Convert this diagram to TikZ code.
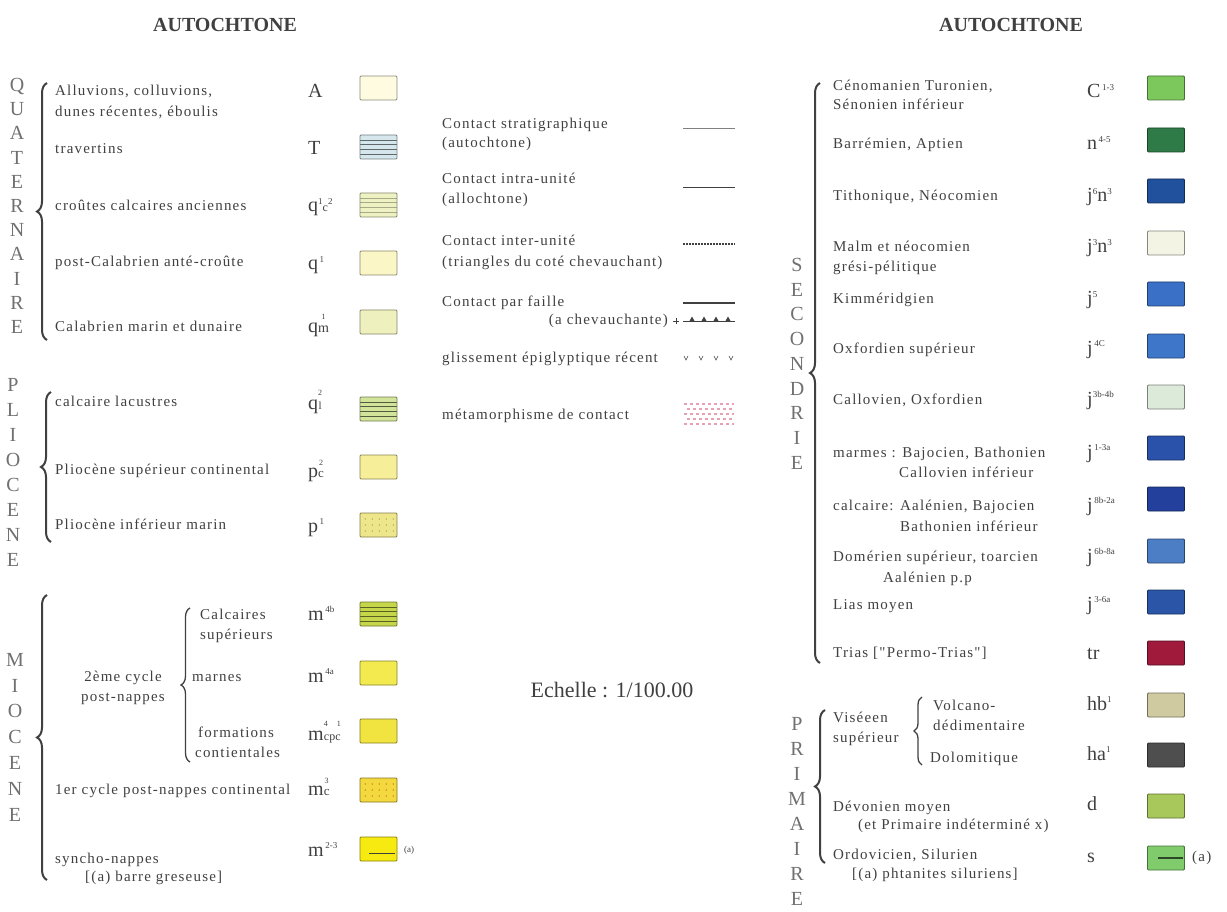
\documentclass[tikz,border=0pt]{standalone}
\usepackage{fontspec}
\setmainfont{Liberation Serif}
\newfontfamily\spaced[LetterSpace=8]{Liberation Serif}
\usepackage{xcolor}
\usepackage{tikz}
\usetikzlibrary{positioning}
\usetikzlibrary{calc,decorations.pathreplacing}

\definecolor{ink}{HTML}{404040}
\definecolor{vgray}{HTML}{707070}
\definecolor{cA}{HTML}{FFFBE0}
\definecolor{cT}{HTML}{D5E7EC}
\definecolor{cq12}{HTML}{EEF2C2}
\definecolor{cq1}{HTML}{FBF6C6}
\definecolor{cqm}{HTML}{EEF1BE}
\definecolor{cq2l}{HTML}{D2E39A}
\definecolor{cp2c}{HTML}{F6EE98}
\definecolor{cp1}{HTML}{EEE68A}
\definecolor{cm4b}{HTML}{C6D64A}
\definecolor{cm4a}{HTML}{F3EA50}
\definecolor{cmcpc}{HTML}{F2E440}
\definecolor{cm3c}{HTML}{F3D840}
\definecolor{cm23}{HTML}{F7EA10}
\definecolor{cC}{HTML}{7DC85C}
\definecolor{cn}{HTML}{2F7B48}
\definecolor{cjsn}{HTML}{21509C}
\definecolor{cjtn}{HTML}{F4F4E4}
\definecolor{cjf}{HTML}{3A70C6}
\definecolor{cjfc}{HTML}{3E76CA}
\definecolor{cjbb}{HTML}{DCEADA}
\definecolor{cjoa}{HTML}{2A52AA}
\definecolor{cjea}{HTML}{23419C}
\definecolor{cjsa}{HTML}{4C7EC6}
\definecolor{cjta}{HTML}{2B56A8}
\definecolor{ctr}{HTML}{A01A3C}
\definecolor{chb}{HTML}{D0CAA0}
\definecolor{cha}{HTML}{4E4E4E}
\definecolor{cd}{HTML}{A9C85C}
\definecolor{cs}{HTML}{80CC6C}
\definecolor{pinkmeta}{HTML}{E8A0B4}

\newcommand{\geosup}[1]{\raisebox{7.5pt}{\fontsize{9}{9}\selectfont #1}}
\newcommand{\geostk}[2]{\shortstack{\raisebox{2.5pt}{\fontsize{8}{8}\selectfont #1}\\#2}}

\begin{document}
\begin{tikzpicture}[x=1pt,y=-1pt,
  head/.style={inner sep=0pt, text=ink, font=\bfseries\fontsize{20}{24}\selectfont},
  vword/.style={anchor=north, align=center, inner sep=0pt, text=vgray, font=\fontsize{20}{#1}\selectfont},
  lbl/.style={anchor=base west, inner sep=0pt, text=ink, font=\spaced\fontsize{15}{18}\selectfont},
  sym/.style={anchor=base west, inner sep=0pt, text=ink, font=\fontsize{20}{22}\selectfont},
  swatch/.style={fill=#1, draw=#1!55!black, line width=0.8pt, rounded corners=1pt,
    minimum width=37pt, minimum height=24pt, inner sep=0pt},
  hlines/.style={path picture={
    \foreach \k in {0.2,0.4,0.6,0.8}
      \draw[#1, line width=0.5pt]
        ($(path picture bounding box.south west)!\k!(path picture bounding box.north west)$) --
        ($(path picture bounding box.south east)!\k!(path picture bounding box.north east)$);}},
  dots/.style={path picture={
    \foreach \i in {0.15,0.35,0.55,0.75,0.95}
      \foreach \j in {0.25,0.5,0.75}
        \fill[#1] ($(path picture bounding box.south west)!\j!(path picture bounding box.north west)
          + (\i*35pt,0)$) circle (0.7pt);}},
  bigbrace/.style={decorate, decoration={brace, amplitude=#1}, line width=2pt, ink},
  subbrace/.style={decorate, decoration={brace, amplitude=#1}, line width=1.3pt, ink}]

\useasboundingbox (0,0) rectangle (1227,912);

% headers
\node[head] (hleft) at (225,25) {AUTOCHTONE};
\node[head] (hright) at (1011,25) {AUTOCHTONE};

% left column : periods
\node[vword=24.2] (quat) at (17,78) {Q\\U\\A\\T\\E\\R\\N\\A\\I\\R\\E};
\node[vword=25] (plio) at (13,378) {P\\L\\I\\O\\C\\E\\N\\E};
\node[vword=25.8] (mio) at (15,653) {M\\I\\O\\C\\E\\N\\E};

\coordinate (quattop) at (47,83);
\coordinate (quatbot) at (47,340);
\coordinate (pliotop) at (51,392);
\coordinate (pliobot) at (51,542);
\coordinate (miotop) at (47,595);
\coordinate (miobot) at (47,880);
\coordinate (cyctop) at (190,608);
\coordinate (cycbot) at (190,762);
\draw[bigbrace=10pt] (quatbot) -- (quattop);
\draw[bigbrace=10pt] (pliobot) -- (pliotop);
\draw[bigbrace=10pt] (miobot) -- (miotop);
\draw[subbrace=9pt] (cycbot) -- (cyctop);

% left column : labels
\node[lbl] (alluv1) at (55,96) {Alluvions, colluvions,};
\node[lbl] (alluv2) at (55,117) {dunes récentes, éboulis};
\node[lbl] (trav) at (55,154) {travertins};
\node[lbl] (crout) at (55,211) {croûtes calcaires anciennes};
\node[lbl] (postcal) at (55,267) {post-Calabrien anté-croûte};
\node[lbl] (calab) at (55,331) {Calabrien marin et dunaire};
\node[lbl] (lacus) at (55,406) {calcaire lacustres};
\node[lbl] (pliosup) at (55,474) {Pliocène supérieur continental};
\node[lbl] (plioinf) at (55,529) {Pliocène inférieur marin};
\node[lbl, anchor=base] (cycle2a) at (123,681) {2ème cycle};
\node[lbl, anchor=base] (cycle2b) at (123,701) {post-nappes};
\node[lbl] (calc1) at (200,619) {Calcaires};
\node[lbl] (calc2) at (200,639) {supérieurs};
\node[lbl] (marn) at (192,681) {marnes};
\node[lbl] (form1) at (198,737) {formations};
\node[lbl] (form2) at (195,757) {contientales};
\node[lbl] (cycle1) at (55,794) {1er cycle post-nappes continental};
\node[lbl] (synch1) at (55,863) {syncho-nappes};
\node[lbl] (synch2) at (85,881) {[(a) barre greseuse]};

% left column : notations
\node[sym] (sA) at (308,98) {A};
\node[sym] (sT) at (308,155) {T};
\node[sym] (sq12) at (308,212) {q\geosup{1}{\fontsize{12}{12}\selectfont c}\geosup{2}};
\node[sym] (sq1) at (308,270) {q\geosup{\,1}};
\node[sym] (sqm) at (308,332) {q{\fontsize{14}{14}\selectfont\geostk{1}{m}}};
\node[sym] (sq2l) at (308,409) {q{\fontsize{11}{11}\selectfont\geostk{2}{l}}};
\node[sym] (sp2c) at (308,477) {p{\fontsize{13}{13}\selectfont\geostk{2}{c}}};
\node[sym] (sp1) at (308,532) {p\geosup{\,1}};
\node[sym] (sm4b) at (308,620) {m\geosup{\,4b}};
\node[sym] (sm4a) at (308,682) {m\geosup{\,4a}};
\node[sym] (smcpc) at (308,740) {m{\fontsize{12}{12}\selectfont\geostk{\raisebox{2pt}{4\hspace{9pt}1}}{cpc}}};
\node[sym] (sm3c) at (308,795) {m{\fontsize{13}{13}\selectfont\geostk{3}{c}}};
\node[sym] (sm23) at (308,856) {m\geosup{\,2-3}};

% left column : swatches
\node[swatch=cA] (bA) at (378.5,88) {};
\node[swatch=cT, hlines=cT!45!black] (bT) at (378.5,147) {};
\node[swatch=cq12, hlines=cq12!70!black] (bq12) at (378.5,205) {};
\node[swatch=cq1] (bq1) at (378.5,263) {};
\node[swatch=cqm] (bqm) at (378.5,322) {};
\node[swatch=cq2l, hlines=cq2l!40!black] (bq2l) at (378.5,409) {};
\node[swatch=cp2c] (bp2c) at (378.5,467) {};
\node[swatch=cp1, dots=cp1!60!black] (bp1) at (378.5,525) {};
\node[swatch=cm4b, hlines=cm4b!45!black] (bm4b) at (378.5,614) {};
\node[swatch=cm4a] (bm4a) at (378.5,673) {};
\node[swatch=cmcpc] (bmcpc) at (378.5,731) {};
\node[swatch=cm3c, dots=orange!70!black] (bm3c) at (378.5,790) {};
\node[swatch=cm23] (bm23) at (378.5,849) {};
\coordinate (barA) at (369,853);
\coordinate (barB) at (395,853);
\draw[ink, line width=0.8pt] (barA) -- (barB);
\node[anchor=west, inner sep=0pt, text=ink, font=\fontsize{9}{10}\selectfont] (aleft) at (404,850) {(a)};

% middle column : contacts
\node[lbl] (strat1) at (442,129) {Contact stratigraphique};
\node[lbl] (strat2) at (442,148) {(autochtone)};
\node[lbl] (intra1) at (442,184) {Contact intra-unité};
\node[lbl] (intra2) at (442,204) {(allochtone)};
\node[lbl] (inter1) at (442,246) {Contact inter-unité};
\node[lbl] (inter2) at (442,267) {(triangles du coté chevauchant)};
\node[lbl] (faille) at (442,306) {Contact par faille};
\node[lbl, anchor=base east] (chev) at (668,324) {(a chevauchante)};
\node[lbl] (gliss) at (442,362) {glissement épiglyptique récent};
\node[lbl] (meta) at (442,419) {métamorphisme de contact};

\coordinate (strats) at (683,128);
\coordinate (strate) at (735,128);
\coordinate (intras) at (683,187);
\coordinate (intrae) at (735,187);
\coordinate (inters) at (683,244);
\coordinate (intere) at (735,244);
\coordinate (failles) at (683,303);
\coordinate (faillee) at (735,303);
\coordinate (chevs) at (683,321);
\coordinate (cheve) at (735,321);
\draw[gray, line width=0.5pt] (strats) -- (strate);
\draw[ink, line width=0.9pt] (intras) -- (intrae);
\draw[ink, line width=1.3pt, dash pattern=on 2pt off 1pt] (inters) -- (intere);
\draw[ink, line width=1.6pt] (failles) -- (faillee);
\draw[ink, line width=1pt] (chevs) -- (cheve);
\foreach \x in {692,704,716,728}
  \fill[ink] (\x-2.5,321) -- (\x+2.5,321) -- (\x,316.5) -- cycle;
\draw[ink, line width=0.6pt] (673,321) -- (679,321) (676,318) -- (676,324);
\foreach \x in {686,701,716,731}
  \draw[ink, line width=0.6pt] (\x-2,356) -- (\x,360) -- (\x+2,356);
\foreach \r/\p in {404/0,409/3,414/0,419/3,424/0}
  \draw[pinkmeta, line width=1.2pt, dash pattern=on 3pt off 3pt, dash phase=\p pt] (684,\r) -- (734,\r);

\node[inner sep=0pt, text=ink, font=\fontsize{22}{26}\selectfont] (echelle) at (612,690) {Echelle : 1/100.00};

% right column : periods
\node[vword=24.75] (seco) at (797,258) {S\\E\\C\\O\\N\\D\\R\\I\\E};
\node[vword=25] (prim) at (797,717) {P\\R\\I\\M\\A\\I\\R\\E};

\coordinate (secotop) at (820,83);
\coordinate (secobot) at (820,663);
\coordinate (primtop) at (825,710);
\coordinate (primbot) at (825,863);
\coordinate (visetop) at (922,697);
\coordinate (visebot) at (922,765);
\draw[bigbrace=10pt] (secobot) -- (secotop);
\draw[bigbrace=10pt] (primbot) -- (primtop);
\draw[subbrace=8pt] (visebot) -- (visetop);

% right column : labels
\node[lbl] (ceno1) at (833,91) {Cénomanien Turonien,};
\node[lbl] (ceno2) at (833,110) {Sénonien inférieur};
\node[lbl] (barr) at (833,149) {Barrémien, Aptien};
\node[lbl] (tith) at (833,201) {Tithonique, Néocomien};
\node[lbl] (malm1) at (833,252) {Malm et néocomien};
\node[lbl] (malm2) at (833,272) {grési-pélitique};
\node[lbl] (kimm) at (833,304) {Kimméridgien};
\node[lbl] (oxsup) at (833,353) {Oxfordien supérieur};
\node[lbl] (callox) at (833,404) {Callovien, Oxfordien};
\node[lbl] (marm1) at (833,457) {marmes : Bajocien, Bathonien};
\node[lbl] (marm2) at (899,477) {Callovien inférieur};
\node[lbl] (calr1) at (833,510) {calcaire: Aalénien, Bajocien};
\node[lbl] (calr2) at (900,531) {Bathonien inférieur};
\node[lbl] (dome1) at (833,561) {Domérien supérieur, toarcien};
\node[lbl] (dome2) at (883,582) {Aalénien p.p};
\node[lbl] (lias) at (833,609) {Lias moyen};
\node[lbl] (trias) at (833,657) {Trias ["Permo-Trias"]};
\node[lbl] (vise1) at (833,722) {Viséeen};
\node[lbl] (vise2) at (833,742) {supérieur};
\node[lbl] (volc1) at (933,710) {Volcano-};
\node[lbl] (volc2) at (933,730) {dédimentaire};
\node[lbl] (dolo) at (930,762) {Dolomitique};
\node[lbl] (devo1) at (833,811) {Dévonien moyen};
\node[lbl] (devo2) at (858,829) {(et Primaire indéterminé x)};
\node[lbl] (ordo1) at (833,859) {Ordovicien, Silurien};
\node[lbl] (ordo2) at (852,878) {[(a) phtanites siluriens]};

% right column : notations
\node[sym] (sC) at (1087,98) {C\geosup{\,1-3}};
\node[sym] (sn) at (1087,150) {n\geosup{\,4-5}};
\node[sym] (sjsn) at (1087,202) {j\geosup{6}n\geosup{3}};
\node[sym] (sjtn) at (1087,253) {j\geosup{3}n\geosup{3}};
\node[sym] (sjf) at (1087,305) {j\geosup{5}};
\node[sym] (sjfc) at (1087,354) {j\geosup{\,4C}};
\node[sym] (sjbb) at (1087,405) {j\geosup{3b-4b}};
\node[sym] (sjoa) at (1087,458) {j\geosup{\,1-3a}};
\node[sym] (sjea) at (1087,511) {j\geosup{\,8b-2a}};
\node[sym] (sjsa) at (1087,562) {j\geosup{\,6b-8a}};
\node[sym] (sjta) at (1087,610) {j\geosup{\,3-6a}};
\node[sym] (str) at (1087,659) {tr};
\node[sym] (shb) at (1087,710) {hb\geosup{1}};
\node[sym] (sha) at (1087,760) {ha\geosup{1}};
\node[sym] (sd) at (1087,810) {d};
\node[sym] (ss) at (1087,862) {s};

% right column : swatches
\node[swatch=cC] (bC) at (1166,88) {};
\node[swatch=cn] (bn) at (1166,140) {};
\node[swatch=cjsn] (bjsn) at (1166,191) {};
\node[swatch=cjtn] (bjtn) at (1166,243) {};
\node[swatch=cjf] (bjf) at (1166,294) {};
\node[swatch=cjfc] (bjfc) at (1166,346) {};
\node[swatch=cjbb] (bjbb) at (1166,397) {};
\node[swatch=cjoa] (bjoa) at (1166,448) {};
\node[swatch=cjea] (bjea) at (1166,499) {};
\node[swatch=cjsa] (bjsa) at (1166,551) {};
\node[swatch=cjta] (bjta) at (1166,602) {};
\node[swatch=ctr] (btr) at (1166,653) {};
\node[swatch=chb] (bhb) at (1166,705) {};
\node[swatch=cha] (bha) at (1166,755) {};
\node[swatch=cd] (bd) at (1166,806) {};
\node[swatch=cs] (bs) at (1166,858) {};
\coordinate (phtA) at (1158,858);
\coordinate (phtB) at (1183,858);
\draw[cs!35!black, line width=2pt] (phtA) -- (phtB);
\node[anchor=west, inner sep=0pt, text=ink, font=\spaced\fontsize{15}{18}\selectfont] (aright) at (1192,858) {(a)};

\end{tikzpicture}
\end{document}
